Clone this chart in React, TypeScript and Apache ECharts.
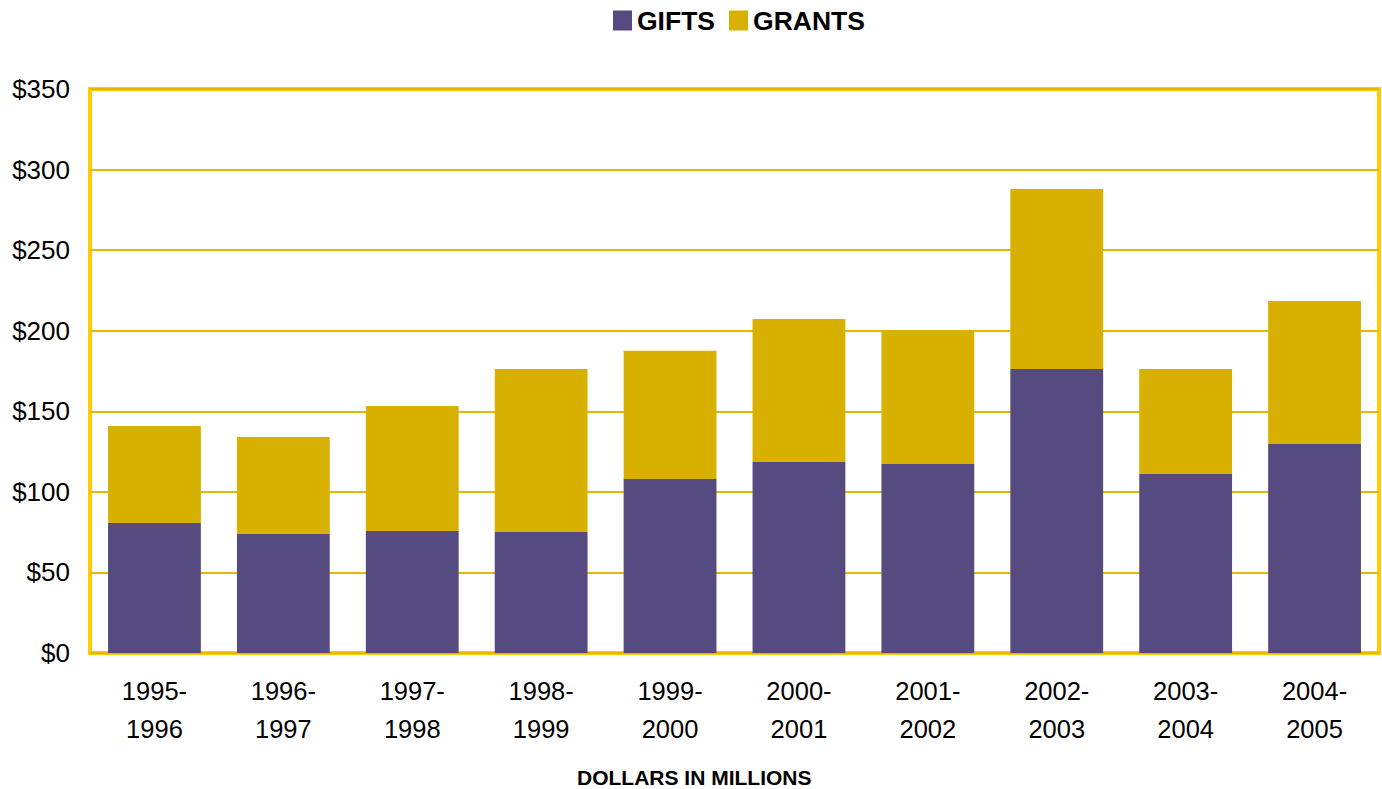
import React, { useEffect, useRef } from "react";
import * as echarts from "echarts";

const categories = ["1995-\n1996", "1996-\n1997", "1997-\n1998", "1998-\n1999", "1999-\n2000", "2000-\n2001", "2001-\n2002", "2002-\n2003", "2003-\n2004", "2004-\n2005"];
const gifts = [80.7, 73.9, 75.7, 75.1, 108, 118.6, 117.3, 176.3, 111.1, 129.7];
const grants = [60.2, 60.1, 77.6, 101.2, 79.5, 88.7, 83.2, 111.7, 65.2, 88.8];
const yTicks = [0, 50, 100, 150, 200, 250, 300, 350];
const xTitle = "DOLLARS IN MILLIONS";

export default function App() {
  const ref = useRef<HTMLDivElement>(null);
  useEffect(() => {
    if (!ref.current) return;
    const chart = echarts.init(ref.current, undefined, { renderer: "svg" });
    chart.setOption({
      animation: false,
      textStyle: { fontFamily: "Liberation Sans, Arial, sans-serif" },
      legend: {
        top: 2,
        left: 608,
        itemWidth: 19,
        itemHeight: 20,
        itemGap: 14,
        icon: "rect",
        textStyle: { fontSize: 26.5, fontWeight: "bold", color: "#000" },
        data: ["GIFTS", "GRANTS"],
      },
      grid: {
        left: 90,
        right: 3,
        top: 89,
        bottom: 136,
        show: true,
        borderColor: "#FFCC00",
        borderWidth: 4,
        backgroundColor: "#fff",
      },
      graphic: [
        {
          type: "text",
          left: 694 - 117,
          top: 767,
          style: { text: xTitle, fontSize: 21, fontWeight: "bold", fill: "#000", fontFamily: "Liberation Sans, Arial, sans-serif" },
        },
      ],
      xAxis: {
        type: "category",
        data: categories,
        axisLine: { show: false },
        axisTick: { show: false },
        axisLabel: { fontSize: 25.5, color: "#000", lineHeight: 38, margin: 19 },
      },
      yAxis: {
        type: "value",
        min: yTicks[0],
        max: yTicks[yTicks.length - 1],
        interval: 50,
        axisLine: { show: false },
        axisTick: { show: false },
        splitLine: { lineStyle: { color: "#E6B800", width: 2 } },
        axisLabel: { fontSize: 26, color: "#000", margin: 20, formatter: (v: number) => "$" + v },
      },
      series: [
        { name: "GIFTS", type: "bar", stack: "t", data: gifts, barWidth: "72%", itemStyle: { color: "#554B80" } },
        { name: "GRANTS", type: "bar", stack: "t", data: grants, barWidth: "72%", itemStyle: { color: "#D7B000" } },
      ],
    });
    return () => chart.dispose();
  }, []);
  return <div ref={ref} style={{ width: 1382, height: 789, position: "absolute", left: 0, top: 0 }} />;
}
